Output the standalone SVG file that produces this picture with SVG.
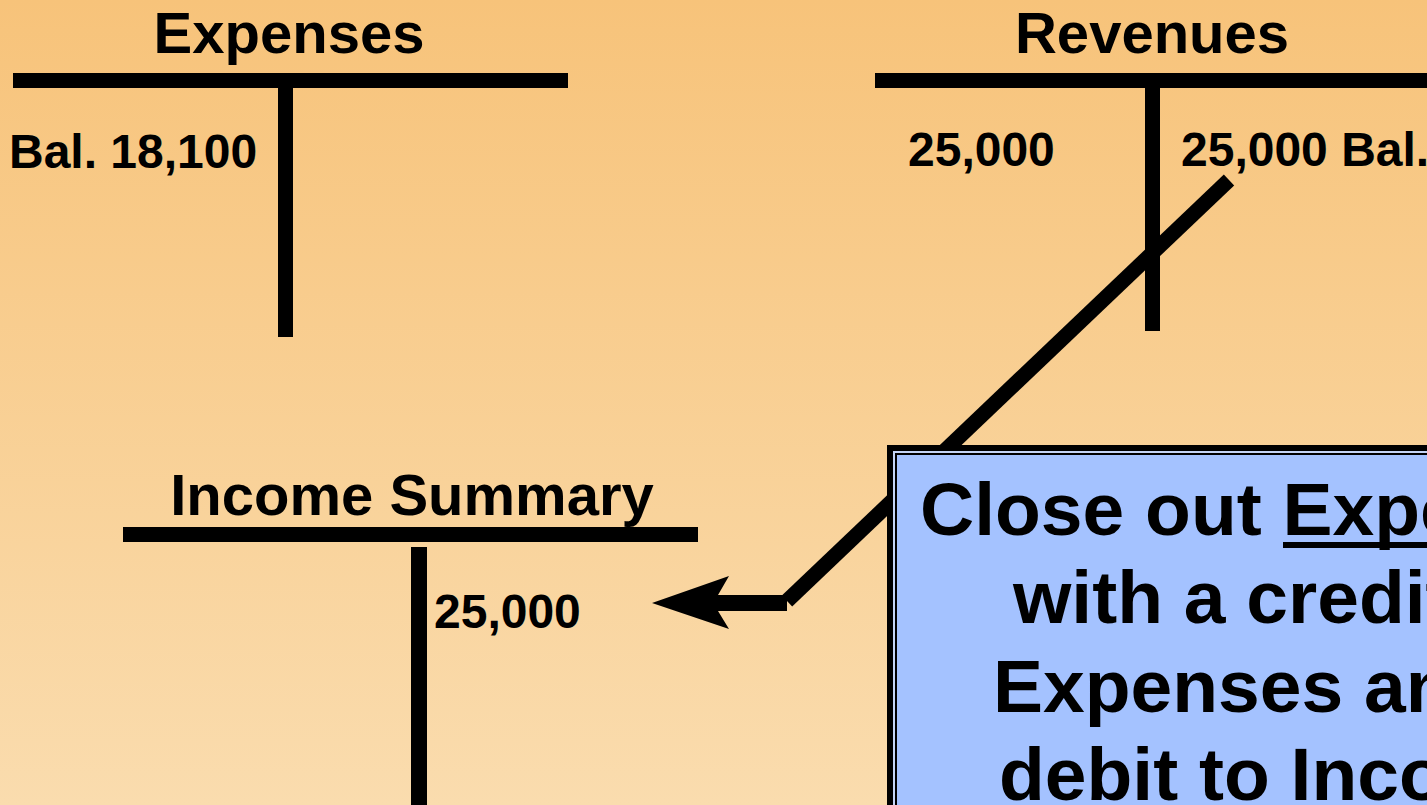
<svg xmlns="http://www.w3.org/2000/svg" width="1427" height="805" viewBox="0 0 1427 805">
  <defs>
    <linearGradient id="bg" x1="0" y1="0" x2="0" y2="1">
      <stop offset="0" stop-color="#F7C37A"/>
      <stop offset="1" stop-color="#FADCAE"/>
    </linearGradient>
    <style>
      .bar { fill: #000; }
      .title { font-family: "Liberation Sans", Arial, sans-serif; font-weight: bold; font-size: 58px; text-anchor: middle; fill: #000; }
      .num { font-family: "Liberation Sans", Arial, sans-serif; font-weight: bold; font-size: 48px; fill: #000; }
      .note { font-family: "Liberation Sans", Arial, sans-serif; font-weight: bold; font-size: 75px; fill: #000; }
      .conn { stroke: #000; stroke-width: 15; fill: none; stroke-linecap: butt; }
    </style>
  </defs>
  <rect x="0" y="0" width="1427" height="805" fill="url(#bg)"/>

  <g id="expenses">
    <text class="title" x="289" y="53">Expenses</text>
    <rect class="bar" x="13" y="73" width="555" height="15"/>
    <rect class="bar" x="278" y="88" width="15" height="249"/>
    <text class="num" x="9" y="168">Bal. 18,100</text>
  </g>

  <g id="revenues">
    <text class="title" x="1152" y="53">Revenues</text>
    <rect class="bar" x="875" y="73" width="560" height="15"/>
    <rect class="bar" x="1145" y="88" width="15" height="243"/>
    <text class="num" x="908" y="166">25,000</text>
    <text class="num" x="1181" y="166">25,000 Bal.</text>
  </g>

  <g id="income-summary">
    <text class="title" x="412" y="515">Income Summary</text>
    <rect class="bar" x="123" y="527" width="575" height="15"/>
    <rect class="bar" x="411" y="547" width="16" height="260"/>
    <text class="num" x="434" y="628">25,000</text>
  </g>

  <g id="connectors">
    <line class="conn" x1="1229" y1="180" x2="787" y2="601"/>
    <polygon fill="#000" points="652,603 729,576 718,595 787,595 787,611 718,611 729,629"/>
  </g>

  <g id="note">
    <rect x="887" y="445" width="560" height="380" fill="#000"/>
    <rect x="893" y="451" width="560" height="380" fill="#C4D4F6"/>
    <rect x="895" y="453" width="560" height="380" fill="#000"/>
    <rect x="897" y="455" width="560" height="380" fill="#A4C2FF"/>
    <text class="note" x="920" y="535">Close out Expe</text>
    <rect x="1283" y="542" width="150" height="6" fill="#000"/>
    <text class="note" x="1013" y="623">with a credit</text>
    <text class="note" x="993" y="712">Expenses an</text>
    <text class="note" x="999" y="800">debit to Inco</text>
  </g>
</svg>
